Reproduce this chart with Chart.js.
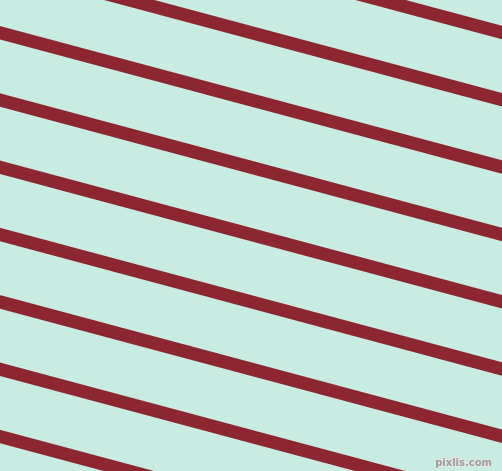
<!DOCTYPE html>
<html>
<head>
<meta charset="utf-8">
<style>
html,body{margin:0;padding:0;background:#c8ece1;overflow:hidden;}
#wrap{position:relative;width:502px;height:471px;}
canvas{display:block;}
</style>
<script src="https://cdn.jsdelivr.net/npm/chart.js@4/dist/chart.umd.min.js"></script>
</head>
<body>
<div id="wrap"><canvas id="c" width="502" height="471"></canvas></div>
<script>
// Stripe centre heights where each stripe meets the left edge (x=0) and right edge (x=502)
const stripeLeftY  = [-101.9, -34.6, 32.7, 100.0, 167.3, 234.6, 301.9, 369.2, 436.5];
const stripeRightY = [32.5, 99.8, 167.1, 234.4, 301.7, 369.0, 436.3, 503.6, 570.9];
const edgeX = [0, 502];
const watermark = 'pixlis.com';

const bgColor = '#c8ece1';
const stripeColor = '#8c2630';

const datasets = stripeLeftY.map((ly, i) => ({
  data: [{x: edgeX[0], y: ly}, {x: edgeX[1], y: stripeRightY[i]}],
  borderColor: stripeColor,
  borderWidth: 13,
  borderCapStyle: 'square',
  pointRadius: 0,
  fill: false,
  tension: 0,
  clip: 10
}));

const bgPlugin = {
  id: 'bg',
  beforeDraw(chart) {
    const ctx = chart.ctx;
    ctx.save();
    ctx.fillStyle = bgColor;
    ctx.fillRect(0, 0, chart.width, chart.height);
    ctx.restore();
  },
  afterDraw(chart) {
    const ctx = chart.ctx;
    ctx.save();
    ctx.font = 'bold 10px "DejaVu Sans", sans-serif';
    ctx.textAlign = 'right';
    ctx.textBaseline = 'alphabetic';
    ctx.lineWidth = 2;
    ctx.strokeStyle = '#e6e6e6';
    ctx.strokeText(watermark, 492, 466);
    ctx.fillStyle = '#9c9c9c';
    ctx.fillText(watermark, 492, 466);
    ctx.restore();
  }
};

new Chart(document.getElementById('c'), {
  type: 'scatter',
  data: { datasets },
  options: {
    responsive: false,
    animation: false,
    showLine: true,
    layout: { padding: 0 },
    plugins: { legend: { display: false }, tooltip: { enabled: false } },
    scales: {
      x: { type: 'linear', min: 0, max: 502, display: false },
      y: { type: 'linear', min: 0, max: 471, reverse: true, display: false }
    }
  },
  plugins: [bgPlugin]
});
</script>
</body>
</html>
